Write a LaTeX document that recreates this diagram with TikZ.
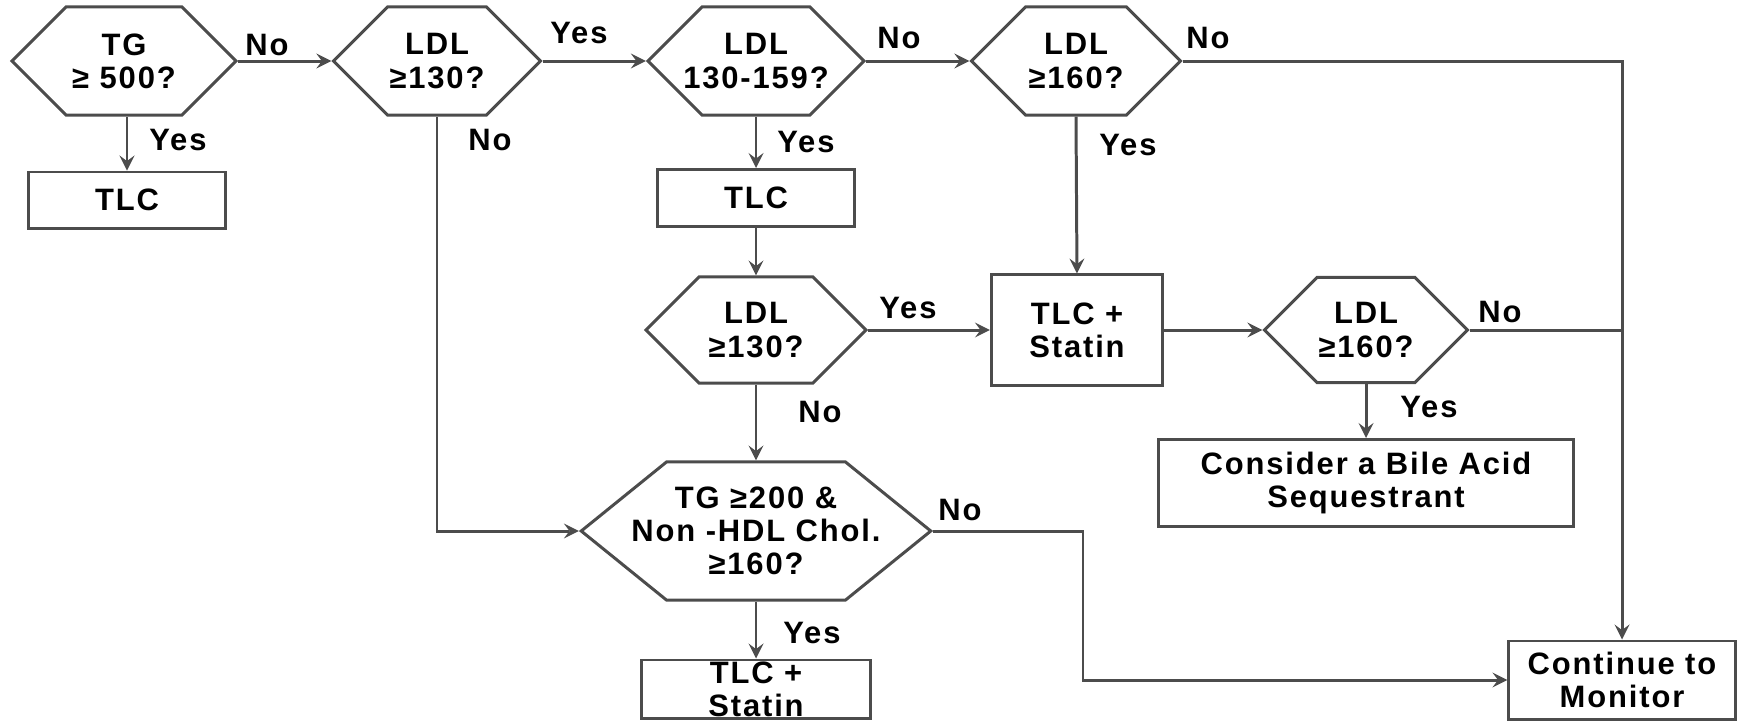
\documentclass[tikz,border=0pt]{standalone}
\usepackage{fontspec}
\setmainfont{Liberation Sans}[LetterSpace=6]
\usepackage{tikz}
\usetikzlibrary{arrows}
\usetikzlibrary{shapes.symbols, calc}
\usepackage{xcolor}
\definecolor{lineGray}{gray}{0.3}
\newcommand{\flowfont}{\bfseries\fontsize{8.8}{9.4}\selectfont}
\tikzstyle{arrow} = [draw=lineGray,line width=0.85pt,->,>=stealth]
\tikzstyle{link} = [draw=lineGray,line width=0.85pt]
\tikzstyle{decision} = [draw=lineGray, line width=0.85pt, signal, signal to=east and west,
                        signal pointer angle=90, inner ysep=0pt, inner xsep=-0.35cm,
                        align=center, font=\flowfont]
\tikzstyle{action} = [draw=lineGray, line width=0.85pt, rectangle, inner sep=0pt,
                      align=center, font=\flowfont]
\tikzstyle{answer} = [inner sep=0pt, font=\flowfont]

\begin{document}
\begin{tikzpicture}[x=0.01cm, y=-0.01cm]
  \useasboundingbox (0,0) rectangle (1738,723);

  % Top row of tests
  \node [decision, minimum width=2.24cm, minimum height=1.08cm] (tg500) at (124,61)
  {TG\\≥ 500?};
  \node [decision, minimum width=2.07cm, minimum height=1.08cm] (ldl130) at (437,61)
  {LDL\\≥130?};
  \node [decision, minimum width=2.16cm, minimum height=1.08cm] (ldlMid) at (756,61)
  {LDL\\130-159?};
  \node [decision, minimum width=2.09cm, minimum height=1.08cm] (ldl160) at (1076,61)
  {LDL\\≥160?};

  % Treatments and second tests
  \node [action, minimum width=1.97cm, minimum height=0.56cm] (tlcA) at (127,200) {TLC};
  \node [action, minimum width=1.96cm, minimum height=0.57cm] (tlcB) at (756,198) {TLC};
  \node [decision, minimum width=2.20cm, minimum height=1.06cm] (ldl130b) at (756,330)
  {LDL\\≥130?};
  \node [action, minimum width=1.71cm, minimum height=1.10cm] (tlcStatA) at (1077,330)
  {TLC +\\Statin};
  \node [decision, minimum width=2.03cm, minimum height=1.05cm] (ldl160b) at (1366,330)
  {LDL\\≥160?};
  \node [action, minimum width=4.14cm, minimum height=0.87cm] (bile) at (1366,483)
  {Consider a Bile Acid\\Sequestrant};
  \node [decision, signal pointer angle=78, minimum width=3.44cm, minimum height=1.38cm]
  (bigHex) at (756,531) {TG ≥200 \&\\Non -HDL Chol.\\≥160?};
  \node [action, minimum width=2.28cm, minimum height=0.58cm] (tlcStatB) at (756,689)
  {TLC +\\Statin};
  \node [action, minimum width=2.26cm, minimum height=0.78cm] (monitor) at (1622,680)
  {Continue to\\Monitor};

  % Connectors
  \draw [arrow] (tg500.east) -- (ldl130.west);
  \draw [arrow] (tg500.south -| tlcA.north) -- (tlcA.north);
  \draw [arrow] (ldl130.east) -- (ldlMid.west);
  \draw [arrow] (ldl130.south) |- (bigHex.west);
  \draw [arrow] (ldlMid.east) -- (ldl160.west);
  \draw [arrow] (ldlMid.south) -- (tlcB.north);
  \draw [arrow] (ldl160.east) -| (monitor.north);
  \draw [arrow] (ldl160.south) -- (tlcStatA.north);
  \draw [arrow] (tlcB.south) -- (ldl130b.north);
  \draw [arrow] (ldl130b.east) -- (tlcStatA.west);
  \draw [arrow] (ldl130b.south) -- (bigHex.north);
  \draw [arrow] (tlcStatA.east) -- (ldl160b.west);
  \draw [link] (ldl160b.east) -- (ldl160b.east -| monitor.north);
  \draw [arrow] (ldl160b.south) -- (bile.north);
  \coordinate (bend) at (1083,600);
  \draw [arrow] (bigHex.east) -| (bend) |- (monitor.west);
  \draw [arrow] (bigHex.south) -- (tlcStatB.north);

  % Answers
  \node [answer] (noA) at (267,45) {No};
  \node [answer] (yesA) at (178,140) {Yes};
  \node [answer] (yesB) at (579,33) {Yes};
  \node [answer] (noB) at (490,140) {No};
  \node [answer] (noC) at (899,38) {No};
  \node [answer] (yesC) at (806,142) {Yes};
  \node [answer] (noD) at (1208,38) {No};
  \node [answer] (yesD) at (1128,145) {Yes};
  \node [answer] (yesE) at (908,308) {Yes};
  \node [answer] (noE) at (820,412) {No};
  \node [answer] (noF) at (1500,312) {No};
  \node [answer] (yesF) at (1429,407) {Yes};
  \node [answer] (noG) at (960,510) {No};
  \node [answer] (yesG) at (812,633) {Yes};
\end{tikzpicture}
\end{document}
